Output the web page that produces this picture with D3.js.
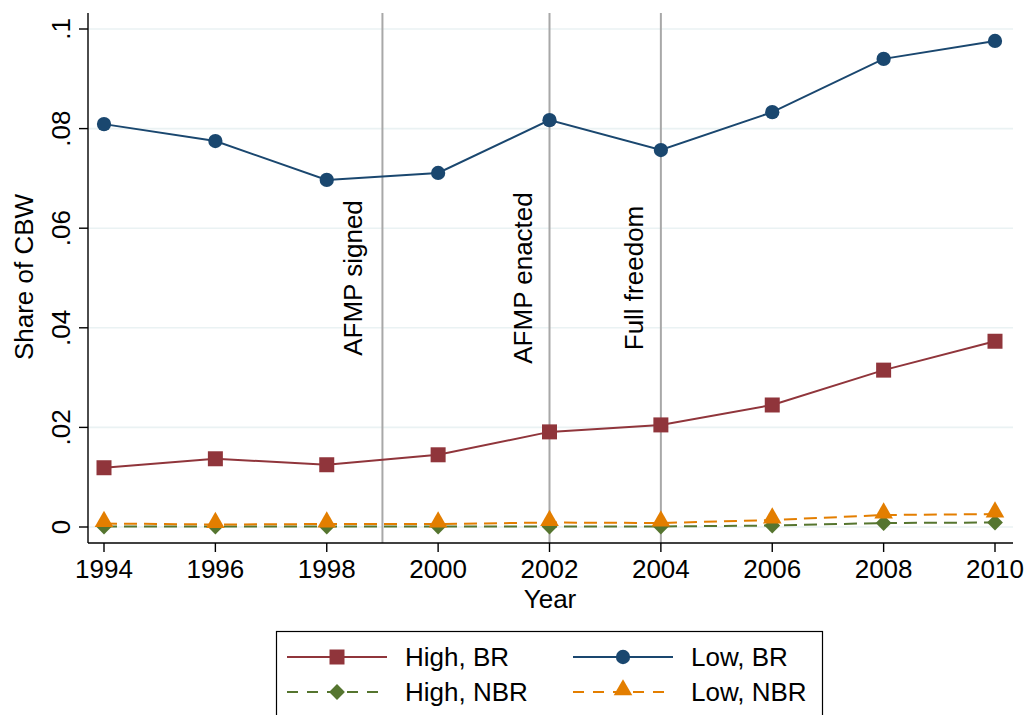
<!DOCTYPE html>
<html>
<head>
<meta charset="utf-8">
<script src="https://cdn.jsdelivr.net/npm/d3@7"></script>
<style>
  html, body { margin: 0; padding: 0; background: #fff; }
  svg { display: block; font-family: Arial, "Liberation Sans", sans-serif; }
</style>
</head>
<body>
<svg id="chart" width="1031" height="715"></svg>
<script>
// Survey years
const years = [1994, 1996, 1998, 2000, 2002, 2004, 2006, 2008, 2010];

// Share of CBW by group
const highBR  = [0.0119, 0.0137, 0.0125, 0.0145, 0.0191, 0.0205, 0.0245, 0.0315, 0.0373];
const lowBR   = [0.0809, 0.0775, 0.0697, 0.0711, 0.0817, 0.0757, 0.0833, 0.0940, 0.0976];
const highNBR = [0.0001, 0.0001, 0.0001, 0.0001, 0.0001, 0.0001, 0.0003, 0.0008, 0.0009];
const lowNBR  = [0.0007, 0.0005, 0.0006, 0.0006, 0.0009, 0.0008, 0.0014, 0.0024, 0.0026];

// Axis ticks
const yTicks = [0, 0.02, 0.04, 0.06, 0.08, 0.1];
const yTickLabels = ["0", ".02", ".04", ".06", ".08", ".1"];
const xTicks = years;

// Policy events (vertical reference lines)
const eventYears = [1999, 2002, 2004];
const eventLabels = ["AFMP signed", "AFMP enacted", "Full freedom"];
const eventLabelOffsets = [-20, -18, -18];

const series = [
  { name: "High, BR",  values: highBR,  color: "#90353b", dash: null,   shape: "square" },
  { name: "Low, BR",   values: lowBR,   color: "#1a476f", dash: null,   shape: "circle" },
  { name: "High, NBR", values: highNBR, color: "#55752f", dash: "13,7", shape: "diamond" },
  { name: "Low, NBR",  values: lowNBR,  color: "#e37e00", dash: "13,7", shape: "triangle" }
];

const FONT = 26;
const svg = d3.select("#chart");
const plot = { left: 88, right: 1013, top: 13, bottom: 543 };

const x = d3.scaleLinear().domain([1994, 2010]).range([104, 995]);
const y = d3.scaleLinear().domain([0, 0.1]).range([527, 29]);

// Gridlines
svg.append("g").selectAll("line").data(yTicks).join("line")
  .attr("x1", plot.left).attr("x2", plot.right)
  .attr("y1", d => y(d)).attr("y2", d => y(d))
  .attr("stroke", "#eaf2f3").attr("stroke-width", 1.6);

// Event lines
svg.append("g").selectAll("line").data(eventYears).join("line")
  .attr("x1", d => x(d)).attr("x2", d => x(d))
  .attr("y1", plot.top).attr("y2", plot.bottom)
  .attr("stroke", "#a8a8a8").attr("stroke-width", 2);

// Event labels (baseline faces the reference line)
svg.append("g").selectAll("text").data(eventYears).join("text")
  .attr("transform", (d, i) => `translate(${x(d) + eventLabelOffsets[i]},${y(0.05)}) rotate(-90)`)
  .attr("text-anchor", "middle")
  .attr("font-size", FONT)
  .attr("fill", "#000")
  .text((d, i) => eventLabels[i]);

// Y axis
const yAxis = svg.append("g").attr("transform", `translate(${plot.left},0)`);
yAxis.append("line").attr("x1", 0).attr("x2", 0).attr("y1", plot.top).attr("y2", plot.bottom)
  .attr("stroke", "#000").attr("stroke-width", 1.4);
yAxis.selectAll(".tick").data(yTicks).join("line")
  .attr("x1", -9).attr("x2", 0).attr("y1", d => y(d)).attr("y2", d => y(d))
  .attr("stroke", "#000").attr("stroke-width", 1.4);
yAxis.selectAll("text").data(yTicks).join("text")
  .attr("transform", d => `translate(-18,${y(d)}) rotate(-90)`)
  .attr("text-anchor", "middle")
  .attr("font-size", FONT)
  .text((d, i) => yTickLabels[i]);

svg.append("text")
  .attr("transform", `translate(33,277) rotate(-90)`)
  .attr("text-anchor", "middle")
  .attr("font-size", FONT)
  .text("Share of CBW");

// X axis
const xAxis = svg.append("g").attr("transform", `translate(0,${plot.bottom})`);
xAxis.append("line").attr("x1", plot.left).attr("x2", plot.right).attr("y1", 0).attr("y2", 0)
  .attr("stroke", "#000").attr("stroke-width", 1.4);
xAxis.selectAll(".tick").data(xTicks).join("line")
  .attr("x1", d => x(d)).attr("x2", d => x(d)).attr("y1", 0).attr("y2", 9)
  .attr("stroke", "#000").attr("stroke-width", 1.4);
xAxis.selectAll("text").data(xTicks).join("text")
  .attr("x", d => x(d)).attr("y", 35)
  .attr("text-anchor", "middle")
  .attr("font-size", FONT)
  .text(d => d);

svg.append("text")
  .attr("x", 550).attr("y", 608)
  .attr("text-anchor", "middle")
  .attr("font-size", FONT)
  .text("Year");

// Marker shapes
const diamondShape = { draw(ctx, size) { const r = Math.sqrt(size) / 2 * Math.SQRT2; ctx.moveTo(0, -r); ctx.lineTo(r, 0); ctx.lineTo(0, r); ctx.lineTo(-r, 0); ctx.closePath(); } };
const symbolFor = {
  square:   d3.symbol().type(d3.symbolSquare).size(225),
  circle:   d3.symbol().type(d3.symbolCircle).size(160),
  diamond:  d3.symbol().type(diamondShape).size(125),
  triangle: d3.symbol().type(d3.symbolTriangle).size(150)
};

const line = d3.line().x((d, i) => x(years[i])).y(d => y(d));

series.forEach(s => {
  svg.append("path")
    .datum(s.values)
    .attr("d", line)
    .attr("fill", "none")
    .attr("stroke", s.color)
    .attr("stroke-width", 2)
    .attr("stroke-dasharray", s.dash);
  svg.append("g").selectAll("path").data(s.values).join("path")
    .attr("transform", (d, i) => `translate(${x(years[i])},${y(d) + (s.shape === "triangle" ? -2 : 0)})`)
    .attr("d", symbolFor[s.shape])
    .attr("fill", s.color);
});

// Legend
const legend = svg.append("g");
legend.append("rect")
  .attr("x", 276.5).attr("y", 631.5).attr("width", 546).attr("height", 100)
  .attr("fill", "#fff").attr("stroke", "#000").attr("stroke-width", 1.2);

const legendCols = [287, 573];
const legendRows = [657, 692];
series.forEach((s, i) => {
  const cx = legendCols[i % 2], cy = legendRows[Math.floor(i / 2)];
  legend.append("line")
    .attr("x1", cx).attr("x2", cx + 100).attr("y1", cy).attr("y2", cy)
    .attr("stroke", s.color).attr("stroke-width", 2)
    .attr("stroke-dasharray", s.dash ? "11,9" : null);
  legend.append("path")
    .attr("transform", `translate(${cx + 50},${cy + (s.shape === "triangle" ? -2 : 0)})`)
    .attr("d", symbolFor[s.shape])
    .attr("fill", s.color);
  legend.append("text")
    .attr("x", cx + 118).attr("y", cy + 9)
    .attr("font-size", FONT)
    .text(s.name);
});
</script>
</body>
</html>
